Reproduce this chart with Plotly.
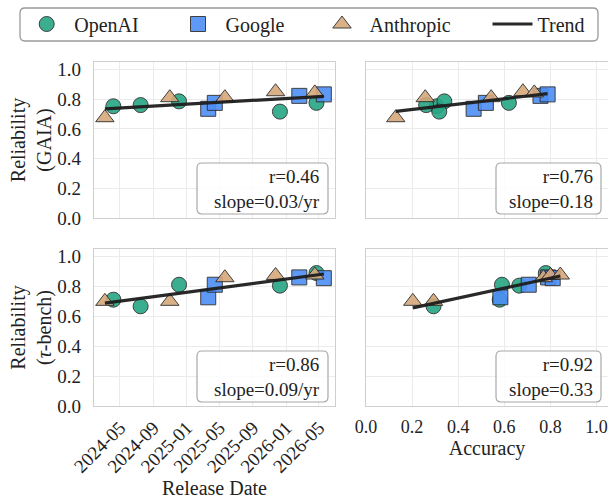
import numpy as np
import pandas as pd
import plotly.graph_objects as go

# ---------------- data ----------------
openai_dates = ["2024-04-07", "2024-07-16", "2024-12-04", "2025-12-09", "2026-04-22"]
openai_gaia_acc = [0.307, 0.261, 0.340, 0.318, 0.620]
openai_gaia_rel = [0.752, 0.760, 0.785, 0.716, 0.775]
openai_tau_acc = [0.580, 0.293, 0.590, 0.665, 0.780]
openai_tau_rel = [0.711, 0.667, 0.811, 0.805, 0.889]

google_dates = ["2025-03-21", "2025-04-14", "2026-02-18", "2026-05-19"]
google_gaia_acc = [0.467, 0.520, 0.757, 0.788]
google_gaia_rel = [0.735, 0.775, 0.822, 0.832]
google_tau_acc = [0.583, 0.706, 0.790, 0.810]
google_tau_rel = [0.727, 0.811, 0.860, 0.855]

anthropic_dates = ["2024-03-07", "2024-10-31", "2025-05-21", "2025-11-23", "2026-04-16"]
anthropic_gaia_acc = [0.129, 0.257, 0.543, 0.681, 0.730]
anthropic_gaia_rel = [0.675, 0.810, 0.810, 0.850, 0.842]
anthropic_tau_acc = [0.203, 0.293, 0.770, 0.800, 0.843]
anthropic_tau_rel = [0.700, 0.700, 0.858, 0.873, 0.876]

stat_texts = {
    (1, 1): "r=0.46<br>slope=0.03/yr",
    (1, 2): "r=0.76<br>slope=0.18",
    (2, 1): "r=0.86<br>slope=0.09/yr",
    (2, 2): "r=0.92<br>slope=0.33",
}
date_ticks = ["2024-05-01", "2024-09-01", "2025-01-01", "2025-05-01",
              "2025-09-01", "2026-01-01", "2026-05-01"]
acc_ticks = [0.0, 0.2, 0.4, 0.6, 0.8, 1.0]
rel_ticks = [0.0, 0.2, 0.4, 0.6, 0.8, 1.0]

# ---------------- style ----------------
FONT = "Liberation Serif"
colors = {"OpenAI": "#27a684", "Google": "#4d8ef5", "Anthropic": "#d6a87b"}
symbols = {"OpenAI": "circle", "Google": "square", "Anthropic": "triangle-up"}
sizes = {"OpenAI": 15, "Google": 15, "Anthropic": 16}
legend_of = {"OpenAI": "legend", "Google": "legend2", "Anthropic": "legend3"}

W, H = 608, 500
ML, MR, MT, MB = 94, 0, 62, 94
PW, PH = W - ML - MR, H - MT - MB


def px_x(px):
    return (px - ML) / PW


def px_y(py):
    return (H - MB - py) / PH


series = {
    "OpenAI": (openai_dates, openai_gaia_acc, openai_gaia_rel, openai_tau_acc, openai_tau_rel),
    "Google": (google_dates, google_gaia_acc, google_gaia_rel, google_tau_acc, google_tau_rel),
    "Anthropic": (anthropic_dates, anthropic_gaia_acc, anthropic_gaia_rel, anthropic_tau_acc, anthropic_tau_rel),
}

fig = go.Figure()

axes = {(1, 1): ("x", "y"), (1, 2): ("x2", "y2"), (2, 1): ("x3", "y3"), (2, 2): ("x4", "y4")}

for (r, c), (xa, ya) in axes.items():
    allx, ally = [], []
    for name, (d, ga, gr, ta, tr) in series.items():
        if c == 1:
            xs = pd.to_datetime(d)
        else:
            xs = ga if r == 1 else ta
        ys = gr if r == 1 else tr
        fig.add_trace(go.Scatter(
            x=list(xs), y=ys, mode="markers", name=name,
            xaxis=xa, yaxis=ya,
            legend=legend_of[name], showlegend=(r == 1 and c == 1),
            marker=dict(symbol=symbols[name], size=sizes[name], color=colors[name],
                        opacity=0.9, line=dict(color="#2b2b2b", width=1)),
        ))
        allx.extend(list(xs))
        ally.extend(ys)
    # trend line (least squares fit of the panel's points)
    if c == 1:
        t = pd.to_datetime(pd.Series(allx))
        xnum = ((t - pd.Timestamp("2024-01-01")).dt.days / 365.25).to_numpy()
    else:
        xnum = np.array(allx, dtype=float)
    yv = np.array(ally, dtype=float)
    k, b = np.polyfit(xnum, yv, 1)
    i0, i1 = int(np.argmin(xnum)), int(np.argmax(xnum))
    if c == 1:
        tt = pd.to_datetime(pd.Series(allx))
        lx = [tt.iloc[i0], tt.iloc[i1]]
    else:
        lx = [xnum[i0], xnum[i1]]
    ly = [k * xnum[i0] + b, k * xnum[i1] + b]
    fig.add_trace(go.Scatter(
        x=lx, y=ly, mode="lines", name="Trend", xaxis=xa, yaxis=ya,
        legend="legend4", showlegend=(r == 1 and c == 1),
        line=dict(color="#1e1e1e", width=3.2), opacity=0.95,
    ))

# ---------------- axes ----------------
xd_left = [0, (335 - ML) / PW]
xd_right = [(366 - ML) / PW, 1]
yd_top = [px_y(218), 1]
yd_bot = [0, px_y(249)]

common = dict(showline=True, mirror=True, linecolor="#cfcfcf", linewidth=1.3,
              showgrid=True, gridcolor="#ebebeb", gridwidth=1, zeroline=False,
              ticks="", tickfont=dict(family=FONT, size=19, color="#222"))
common_acc = dict(common, tickfont=dict(family=FONT, size=18, color="#222"))

date_range = ["2024-01-27", "2026-06-29"]
TITLE_FONT = dict(family=FONT, size=20, color="#222")

fig.update_layout(
    xaxis=dict(domain=xd_left, anchor="y", type="date", range=date_range,
               tickvals=date_ticks, showticklabels=False, **common),
    xaxis3=dict(domain=xd_left, anchor="y3", type="date", range=date_range,
                tickvals=date_ticks, tickformat="%Y-%m", tickangle=-45,
                ticklabelstandoff=2,
                title=dict(text="Release Date", font=TITLE_FONT, standoff=2),
                **common),
    xaxis2=dict(domain=xd_right, anchor="y2", range=[0, 1.05], tickvals=acc_ticks,
                showticklabels=False, **common_acc),
    xaxis4=dict(domain=xd_right, anchor="y4", range=[0, 1.05], tickvals=acc_ticks,
                tickformat=".1f", ticklabelstandoff=4,
                title=dict(text="Accuracy", font=TITLE_FONT, standoff=4),
                **common_acc),
    yaxis=dict(domain=yd_top, anchor="x", range=[0, 1.05], tickvals=rel_ticks,
               tickformat=".1f", ticklabelstandoff=8,
               title=dict(text="Reliability<br>(GAIA)", font=TITLE_FONT, standoff=0),
               **common),
    yaxis2=dict(domain=yd_top, anchor="x2", range=[0, 1.05], tickvals=rel_ticks,
                showticklabels=False, **common),
    yaxis3=dict(domain=yd_bot, anchor="x3", range=[0, 1.05], tickvals=rel_ticks,
                tickformat=".1f", ticklabelstandoff=8,
                title=dict(text="Reliability<br>(<i>τ</i>-bench)", font=TITLE_FONT, standoff=0),
                **common),
    yaxis4=dict(domain=yd_bot, anchor="x4", range=[0, 1.05], tickvals=rel_ticks,
                showticklabels=False, **common),
)


# ---------------- stats boxes ----------------
def rounded_path(x0, x1, y0, y1, rr):
    return (f"M{x0 + rr},{y0} L{x1 - rr},{y0} Q{x1},{y0} {x1},{y0 + rr} "
            f"L{x1},{y1 - rr} Q{x1},{y1} {x1 - rr},{y1} L{x0 + rr},{y1} "
            f"Q{x0},{y1} {x0},{y1 - rr} L{x0},{y0 + rr} Q{x0},{y0} {x0 + rr},{y0} Z")


box_left = {1: -138, 2: -112}
for (r, c), (xa, ya) in axes.items():
    fig.add_shape(type="path", xref=f"{xa} domain", yref=f"{ya} domain",
                  xsizemode="pixel", ysizemode="pixel", xanchor=1, yanchor=0,
                  path=rounded_path(box_left[c], -7, 4, 55, 5),
                  line=dict(color="#a8a8a8", width=1.2), fillcolor="rgba(255,255,255,0.85)",
                  layer="above")
    fig.add_annotation(text=stat_texts[(r, c)], xref=f"{xa} domain", yref=f"{ya} domain",
                       x=1, y=0, xanchor="right", yanchor="middle", xshift=-13, yshift=29.5,
                       align="right", showarrow=False,
                       font=dict(family=FONT, size=19, color="#222"))

# ---------------- legend box ----------------
fig.add_shape(type="path", xref="paper", yref="paper", xsizemode="pixel", ysizemode="pixel",
              xanchor=0, yanchor=1,
              path=rounded_path(20 - ML, 598 - ML, MT - 41, MT - 8, 5),
              line=dict(color="#9a9a9a", width=1.3), fillcolor="rgba(0,0,0,0)")

leg_common = dict(orientation="h", xanchor="left", yanchor="middle", bgcolor="rgba(0,0,0,0)",
                  borderwidth=0, font=dict(family=FONT, size=20, color="#222"))
legend_y = px_y(24)
fig.update_layout(
    legend=dict(x=px_x(46.7 - 27.5), y=legend_y, itemwidth=45, **leg_common),
    legend2=dict(x=px_x(198 - 27.5), y=legend_y, itemwidth=45, **leg_common),
    legend3=dict(x=px_x(342 - 27.5), y=legend_y, itemwidth=45, **leg_common),
    legend4=dict(x=px_x(487.5), y=legend_y, itemwidth=40, **leg_common),
)

fig.update_layout(
    width=W, height=H, margin=dict(l=ML, r=MR, t=MT, b=MB, autoexpand=False),
    paper_bgcolor="white", plot_bgcolor="white",
    font=dict(family=FONT, size=18, color="#222"),
)

fig.write_html("out.html", config={"displayModeBar": False},
               post_script="document.body.style.margin='0';document.body.style.overflow='hidden';")
